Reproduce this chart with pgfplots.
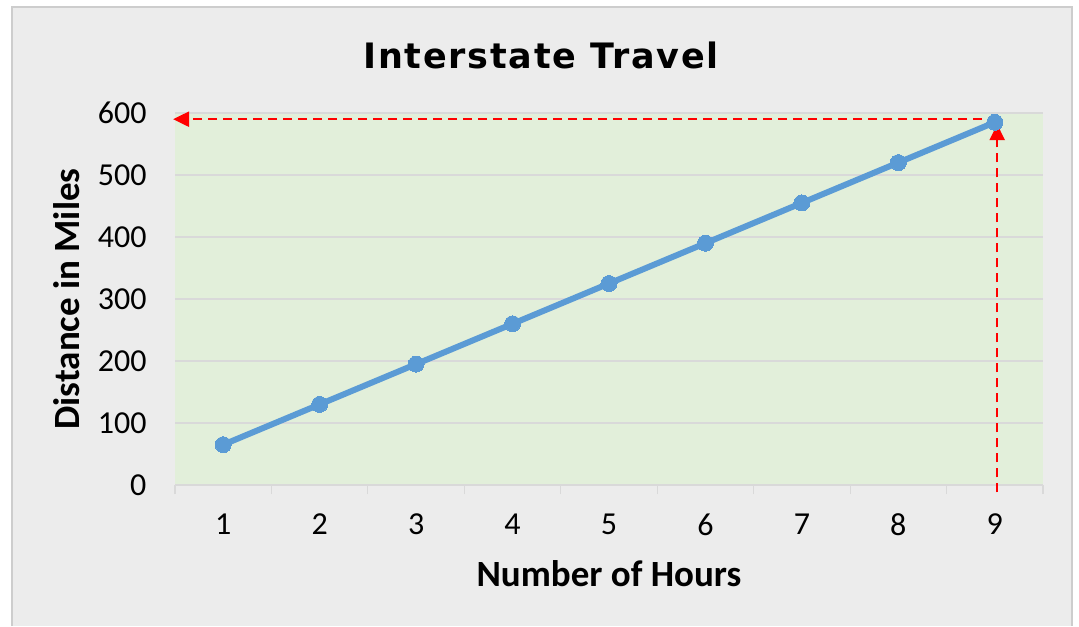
\documentclass[border=0pt]{standalone}
\usepackage{fontspec}
\setmainfont{Carlito}
\newfontfamily\titlefont[LetterSpace=5]{DejaVu Sans}
\usepackage{pgfplots}
\pgfplotsset{compat=1.18}
\usetikzlibrary{arrows.meta}
\definecolor{bgray}{RGB}{236,236,236}
\definecolor{framegray}{RGB}{205,205,205}
\definecolor{plotgreen}{RGB}{226,239,218}
\definecolor{gridgray}{RGB}{217,217,217}
\definecolor{lineblue}{RGB}{91,155,213}
\pgfplotstableread{
x y
1 65
2 130
3 195
4 260
5 325
6 390
7 455
8 520
9 585
}\datatable
\begin{document}
\begin{tikzpicture}[x=1pt,y=1pt]
\fill[white] (0,0) rectangle (1079,626);
\fill[bgray] (12,0) rectangle (1072,619);
\draw[framegray, line width=1.5pt] (12,0) -- (12,619) -- (1072,619) -- (1072,0);
\node[font=\titlefont\bfseries\fontsize{35}{42}\selectfont, anchor=center] at (541,571) {Interstate Travel};
\begin{axis}[
  at={(175pt,141pt)}, anchor=south west,
  scale only axis, width=868pt, height=372pt,
  xmin=0.5, xmax=9.5, ymin=0, ymax=600,
  xtick={1,...,9}, ytick={0,100,...,600},
  minor xtick={0.5,1.5,...,9.5},
  major tick length=0pt, minor tick length=9pt,
  tick align=outside,
  xtick pos=bottom, ytick pos=left,
  minor tick style={gridgray, line width=1.2pt},
  axis line style={draw=none},
  ymajorgrids, grid style={gridgray, line width=1.5pt},
  axis background/.style={fill=plotgreen},
  ticklabel style={font=\fontsize{32}{38}\selectfont, text=black},
  /pgf/number format/assume math mode=true,
  xticklabel style={yshift=-25pt},
  yticklabel style={xshift=-25pt},
  xlabel={\bfseries Number of Hours},
  ylabel={\bfseries Distance in Miles},
  label style={font=\bfseries\fontsize{37}{44}\selectfont},
  xlabel style={yshift=-18pt},
  ylabel style={yshift=11pt},
  clip=false,
]
\addplot[lineblue, line width=6pt, mark=*, mark size=8pt, mark options={fill=lineblue, draw=lineblue, line width=0pt}] table[x=x,y=y] {\datatable};
\draw[red, line width=2.3pt, dash pattern=on 9pt off 6pt, -{Triangle[length=16pt,width=15pt]}] (axis cs:8.87,590) -- (axis cs:0.48,590);
\draw[red, line width=2.3pt, dash pattern=on 9pt off 6pt, -{Triangle[length=16pt,width=15pt]}] (axis cs:9.025,-12) -- (axis cs:9.025,582);
\end{axis}
\end{tikzpicture}
\end{document}
